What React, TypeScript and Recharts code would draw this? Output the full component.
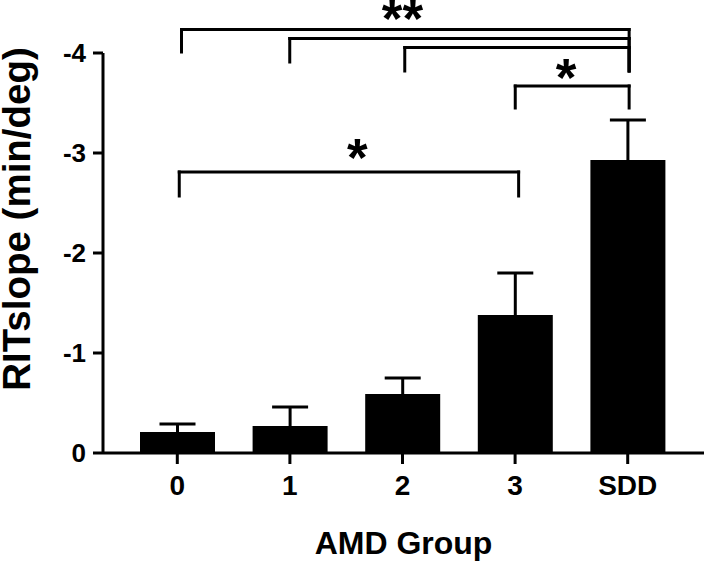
import React from 'react';
import {
  BarChart, Bar, XAxis, YAxis, ErrorBar, ReferenceLine, ReferenceDot, Label,
} from 'recharts';

// ---- data ----
const groups = ['0', '1', '2', '3', 'SDD'];
const means = [-0.21, -0.27, -0.59, -1.38, -2.93];
const sems = [0.08, 0.19, 0.16, 0.42, 0.40];
const yTicks = [0, -1, -2, -3, -4];

// significance brackets (x in group index units, y in data units)
const bracketStart = [0.04, 1.0, 2.02, 3.0, 0.02];
const bracketEnd = [4.01, 4.01, 4.01, 4.01, 3.03];
const bracketLevel = [-4.235, -4.145, -4.055, -3.67, -2.81];
const legStartBottom = [-4.01, -3.91, -3.82, -3.45, -2.57];
const legEndBottom = [-3.82, -3.82, -3.82, -3.45, -2.57];

const starText = ['**', '*', '*'];
const starX = [2.0, 3.45, 1.6];
const starY = [-4.42, -3.83, -3.03];

const data = groups.map((g, i) => ({
  group: g,
  value: means[i],
  err: [sems[i], 0.02],
}));

const FONT = '"Liberation Sans", Arial, sans-serif';
const STAR_FS = 53;

const StarShape = (text: string) => (p: any) => (
  <text
    x={p.cx}
    y={p.cy + STAR_FS * 0.49}
    textAnchor="middle"
    fontFamily={FONT}
    fontWeight="bold"
    fontSize={STAR_FS}
    fill="#000"
  >
    {text}
  </text>
);

const YLabel = (props: any) => {
  const vb = props.viewBox || { x: 0, y: 0, width: 0, height: 0 };
  const cx = vb.x + 30;
  const cy = vb.y + vb.height / 2 - 34;
  return (
    <text
      x={cx}
      y={cy}
      transform={`rotate(-90, ${cx}, ${cy})`}
      textAnchor="middle"
      fontFamily={FONT}
      fontWeight="bold"
      fontSize={38.5}
      fill="#000"
    >
      RITslope (min/deg)
    </text>
  );
};

export default function App() {
  const pad = { left: 18, right: 20 };
  const numPad = { left: 74, right: 76 };
  const lineStyle = { stroke: '#000', strokeWidth: 3 };
  const segs: any[] = [];
  bracketLevel.forEach((lvl, i) => {
    segs.push([{ x: bracketStart[i], y: lvl }, { x: bracketEnd[i], y: lvl }]);
    segs.push([{ x: bracketStart[i], y: lvl }, { x: bracketStart[i], y: legStartBottom[i] }]);
    segs.push([{ x: bracketEnd[i], y: lvl }, { x: bracketEnd[i], y: legEndBottom[i] }]);
  });
  return (
    <div style={{ position: 'absolute', left: 0, top: 0, background: '#fff' }}>
      <BarChart
        width={704}
        height={562}
        data={data}
        margin={{ top: 53, right: 0, bottom: 0, left: 0 }}
      >
        <XAxis
          dataKey="group"
          type="category"
          padding={pad}
          height={109}
          tickSize={11}
          tickMargin={11}
          axisLine={lineStyle}
          tickLine={lineStyle}
          tick={{ fill: '#000', fontSize: 28, fontWeight: 'bold', fontFamily: FONT }}
          interval={0}
        >
          <Label
            value="AMD Group"
            position="insideBottom"
            offset={8}
            fill="#000"
            fontSize={32}
            fontWeight="bold"
            fontFamily={FONT}
          />
        </XAxis>
        <XAxis
          xAxisId="num"
          type="number"
          domain={[0, 4]}
          allowDataOverflow
          padding={numPad}
          hide
          orientation="top"
          height={0}
        />
        <YAxis
          type="number"
          domain={[-4, 0]}
          reversed
          ticks={yTicks}
          allowDataOverflow
          width={103}
          tickSize={10}
          tickMargin={7}
          axisLine={lineStyle}
          tickLine={lineStyle}
          tick={{ fill: '#000', fontSize: 26, fontWeight: 'bold', fontFamily: FONT }}
          interval={0}
        >
          <Label content={YLabel} />
        </YAxis>
        <Bar dataKey="value" fill="#000" barSize={75} isAnimationActive={false}>
          <ErrorBar dataKey="err" direction="y" width={18} stroke="#000" strokeWidth={3} />
        </Bar>
        {segs.map((s, i) => (
          <ReferenceLine
            key={'s' + i}
            xAxisId="num"
            segment={s}
            ifOverflow="visible"
            stroke="#000"
            strokeWidth={3}
            strokeLinecap="square"
          />
        ))}
        {starText.map((t, i) => (
          <ReferenceDot
            key={'d' + i}
            xAxisId="num"
            x={starX[i]}
            y={starY[i]}
            r={0}
            ifOverflow="visible"
            shape={StarShape(t)}
          />
        ))}
      </BarChart>
    </div>
  );
}
